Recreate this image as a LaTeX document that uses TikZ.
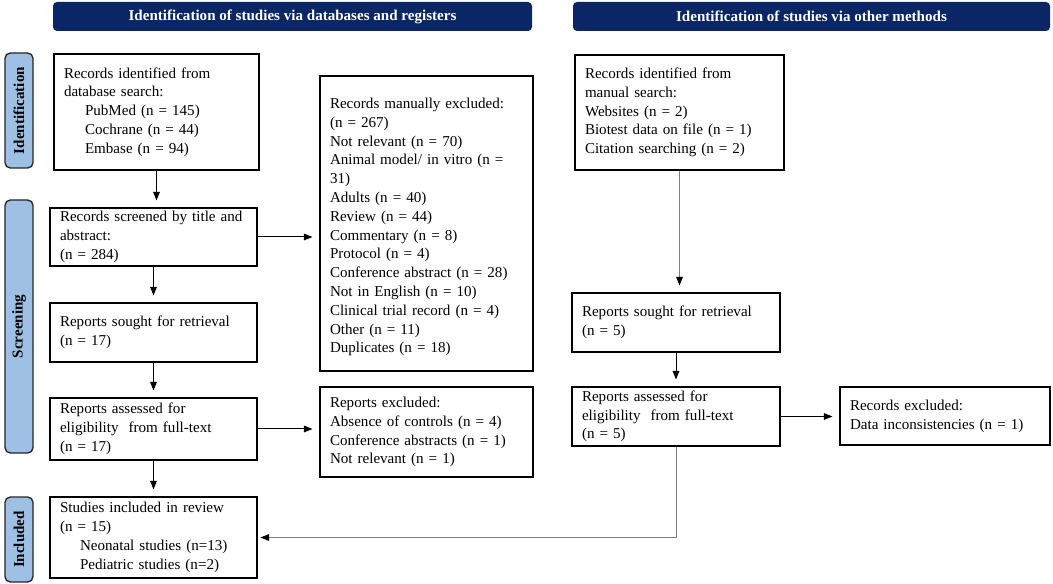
\documentclass[tikz,border=0pt]{standalone}
\usepackage{fontspec}
\setmainfont{Liberation Serif}
\usetikzlibrary{arrows.meta}
\definecolor{navy}{RGB}{10,38,100}
\definecolor{phase}{RGB}{157,192,228}
\definecolor{conn}{RGB}{125,125,125}
\begin{document}
\begin{tikzpicture}[x=0.75pt,y=-0.75pt,
  font=\fontsize{11.3}{14.1}\selectfont,
  box/.style={draw=black, line width=1.25pt, inner xsep=7.5pt, inner ysep=1pt, align=left, anchor=center},
  hdr/.style={fill=navy, rounded corners=3pt, text=white, font=\fontsize{11.3}{13}\selectfont\bfseries, minimum height=21.75pt, inner sep=0pt},
  phaselbl/.style={fill=phase, draw=black!85, line width=1pt, rounded corners=4pt, minimum height=21pt, inner sep=0pt, rotate=90, font=\fontsize{11.3}{13}\selectfont\bfseries},
  arr/.style={line width=0.75pt, -{Triangle[length=6.5pt,width=5pt]}, shorten >=5pt},
  garr/.style={arr, draw=conn, -{Triangle[length=6.5pt,width=5pt,color=black]}},
]
\useasboundingbox[fill=white] (0,0) rectangle (1053,584);

% headers
\node[hdr, minimum width=359.25pt] (h1) at (292.5,16.5) {Identification of studies via databases and registers};
\node[hdr, minimum width=357.75pt] (h2) at (811.5,16.5) {Identification of studies via other methods};

% phase labels
\node[phaselbl, minimum width=86.25pt] (pid) at (19,110.5) {Identification};
\node[phaselbl, minimum width=189.75pt] (psc) at (19,326.5) {Screening};
\node[phaselbl, minimum width=63.75pt] (pin) at (19,539.5) {Included};

% left column
\node[box, text width=138.75pt, minimum height=87pt] (A) at (156.5,112) {Records identified from\\database search:\\\hspace*{15.75pt}PubMed (n = 145)\\\hspace*{15.75pt}Cochrane (n = 44)\\\hspace*{15.75pt}Embase (n = 94)};
\node[box, text width=140.25pt, minimum height=43.5pt] (C) at (153.5,237) {Records screened by title and\\abstract:\\(n = 284)};
\node[box, text width=140.25pt, minimum height=44.25pt] (D) at (153.5,332.5) {Reports sought for retrieval\\(n = 17)};
\node[box, text width=140.25pt, minimum height=46.5pt] (E) at (153.5,429) {Reports assessed for\\eligibility\ \ from full-text\\(n = 17)};
\node[box, text width=140.25pt, minimum height=60.75pt] (G) at (153.5,537.5) {Studies included in review\\(n = 15)\\\hspace*{15pt}Neonatal studies (n=13)\\\hspace*{15pt}Pediatric studies (n=2)};

% exclusion boxes
\node[box, text width=144.75pt, minimum height=221.25pt] (B) at (426.5,223.5) {\mbox{}\\[-1pt]Records manually excluded:\\(n = 267)\\Not relevant (n = 70)\\Animal model/ in vitro (n =\\31)\\Adults (n = 40)\\Review (n = 44)\\Commentary (n = 8)\\Protocol (n = 4)\\Conference abstract (n = 28)\\Not in English (n = 10)\\Clinical trial record (n = 4)\\Other (n = 11)\\Duplicates (n = 18)};
\node[box, text width=144.75pt, minimum height=67.5pt] (F) at (426.5,432) {Reports excluded:\\Absence of controls (n = 4)\\Conference abstracts (n = 1)\\Not relevant (n = 1)};

% right column
\node[box, text width=141.75pt, minimum height=86.25pt] (H) at (679.5,112.5) {Records identified from\\manual search:\\Websites (n = 2)\\Biotest data on file (n = 1)\\Citation searching (n = 2)};
\node[box, text width=141pt, minimum height=44.25pt] (I) at (676,322.5) {Reports sought for retrieval\\(n = 5)};
\node[box, text width=141pt, minimum height=44.25pt] (J) at (676,416.5) {Reports assessed for\\eligibility\ \ from full-text\\(n = 5)};
\node[box, text width=142.5pt, minimum height=43.5pt] (K) at (945,416) {Records excluded:\\Data inconsistencies (n = 1)};

% connectors
\draw[arr] (A.south) -- (A.south |- C.north);
\draw[arr] (C.south) -- (D.north);
\draw[arr] (D.south) -- (E.north);
\draw[arr] (E.south) -- (G.north);
\draw[arr] (C.east) -- (C.east -| B.west);
\draw[arr] (E.east) -- (E.east -| F.west);
\draw[garr] (H.south) -- (H.south |- I.north);
\draw[arr] (I.south) -- (J.north);
\draw[arr] (J.east) -- (J.east -| K.west);
\draw[garr, shorten >=2pt] (J.south) |- (G.east);
\end{tikzpicture}
\end{document}
